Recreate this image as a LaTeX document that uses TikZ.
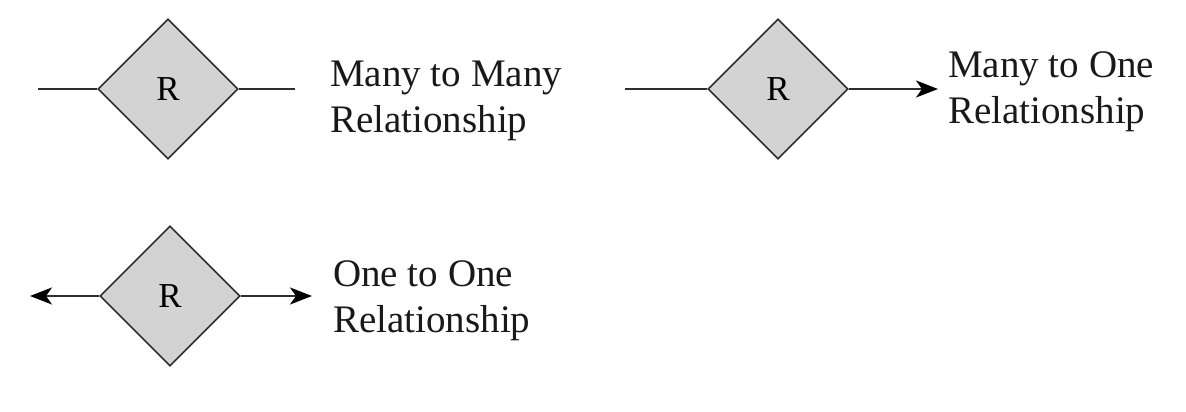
\documentclass[tikz,border=0pt]{standalone}
\usepackage{fontspec}
\setmainfont{Liberation Serif}
\usetikzlibrary{shapes.geometric,arrows.meta}
\definecolor{linegray}{HTML}{2E2E2E}
\definecolor{fillgray}{HTML}{D3D3D3}
\tikzset{
  rel/.style={diamond, aspect=1, minimum size=140pt, inner sep=0pt, draw=linegray, fill=fillgray, line width=1.6pt, font=\fontsize{35pt}{35pt}\selectfont},
  conn/.style={draw=linegray, line width=2pt},
  tip/.style={-{Stealth[length=22pt,width=17pt,inset=6pt,color=black]}},
  lbl/.style={anchor=base west, align=left, inner sep=0pt, text=black!90, font=\fontsize{39pt}{46pt}\selectfont}
}
\begin{document}
\begin{tikzpicture}[x=1pt,y=-1pt]
\useasboundingbox (0,0) rectangle (1186,412);
% Many to many
\node[rel] (r1) at (168,89) {R};
\coordinate (a1) at (38,89);
\coordinate (b1) at (295,89);
\draw[conn] (a1) -- (r1.west);
\draw[conn] (r1.east) -- (b1);
\node[lbl] (t1) at (330,132) {Many to Many\\Relationship};
% Many to one
\node[rel] (r2) at (778,89) {R};
\coordinate (a2) at (625,89);
\coordinate (b2) at (938,89);
\draw[conn] (a2) -- (r2.west);
\draw[conn,tip] (r2.east) -- (b2);
\node[lbl] (t2) at (948,123) {Many to One\\Relationship};
% One to one
\node[rel] (r3) at (170,296) {R};
\coordinate (a3) at (30,296);
\coordinate (b3) at (312,296);
\draw[conn,tip] (r3.west) -- (a3);
\draw[conn,tip] (r3.east) -- (b3);
\node[lbl] (t3) at (333,332) {One to One\\Relationship};
\end{tikzpicture}
\end{document}
